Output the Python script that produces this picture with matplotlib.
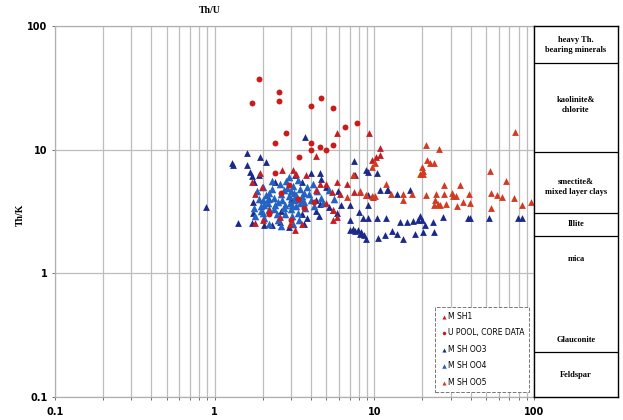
import matplotlib.pyplot as plt
import numpy as np
from matplotlib.ticker import FixedLocator, NullFormatter, FixedFormatter

# Th/U (x) and Th/K (y)
upool_x = [1.89, 2.53, 1.71, 2.53, 2.78, 2.37, 4.03, 4.61, 5.53, 6.52, 7.74, 4.03, 4.56, 5.53,
           4.03, 5.0, 3.37, 2.4, 2.9, 3.3, 2.2, 3.0, 3.6, 2.6, 4.2]
upool_y = [37.1, 29.4, 24.0, 24.6, 13.6, 11.3, 22.4, 26.3, 21.6, 15.3, 16.5, 11.3, 10.5, 10.9,
           9.95, 9.95, 8.7, 6.5, 5.2, 4.0, 3.0, 2.7, 3.4, 4.5, 3.8]

msh1_x = [5.8, 9.3, 10.8, 4.3, 2.65, 1.92, 3.1, 3.25, 1.7, 1.97, 1.8, 4.56, 5.0, 5.8, 6.7,
          4.3, 5.4, 6.1, 7.5, 8.1, 8.8, 9.8, 7.5, 9.6, 10.2, 10.9, 5.0, 5.5, 5.8, 2.57,
          2.96, 3.2, 3.5, 2.2, 2.0, 1.8, 3.75, 5.5, 5.5]
msh1_y = [13.6, 13.7, 10.3, 8.9, 6.85, 6.5, 6.85, 6.4, 5.5, 5.0, 4.4, 5.3, 5.3, 5.5, 5.3,
          4.7, 4.55, 4.4, 4.55, 4.55, 4.3, 4.15, 6.2, 8.3, 8.7, 9.1, 3.7, 3.26, 2.86, 2.86,
          2.5, 2.24, 2.5, 3.26, 2.7, 2.55, 6.25, 3.26, 2.7]

msh003_x = [0.88, 1.6, 1.92, 2.1, 1.28, 1.3, 1.6, 1.66, 1.7, 1.75, 1.4, 1.73, 1.73, 1.7, 2.27,
            2.57, 3.65, 7.5, 9.1, 10.4, 4.56, 3.5, 12.1, 5.9, 7.0, 6.2, 9.1, 8.0, 7.0, 8.5,
            9.1, 10.4, 11.9, 14.5, 15.9, 17.5, 18.8, 7.0, 7.6, 8.1, 8.8, 10.6, 11.6, 12.9,
            13.8, 15.2, 18.0, 5.8, 5.2, 4.3, 4.56, 19.3, 19.9, 20.6, 20.2, 23.5, 23.2, 27.0,
            38.6, 39.7, 52.3, 78.8, 84.3, 7.6, 8.9, 9.1, 10.8, 12.0, 13.8, 16.7, 2.2, 2.6,
            3.0, 3.5, 4.3, 3.8, 2.4, 1.9, 3.2, 4.0, 4.6, 5.0, 2.05, 2.9, 3.6, 4.5,
            7.3, 7.9, 8.3, 8.6]
msh003_y = [3.44, 9.46, 8.7, 8.0, 7.85, 7.5, 7.5, 6.6, 6.1, 5.5, 2.57, 3.8, 3.05, 2.57, 2.46,
            2.6, 12.6, 8.1, 6.6, 6.5, 6.5, 5.5, 4.7, 4.6, 3.6, 3.6, 3.57, 3.15, 2.7, 2.8,
            2.8, 2.8, 2.8, 2.6, 2.6, 2.65, 2.7, 2.24, 2.2, 2.1, 1.9, 1.95, 2.04, 2.2,
            2.1, 1.9, 2.1, 3.05, 3.45, 3.9, 3.65, 2.9, 2.7, 2.46, 2.18, 2.18, 2.6, 2.85,
            2.8, 2.8, 2.8, 2.8, 2.8, 6.25, 6.85, 4.3, 4.7, 4.72, 4.4, 4.7, 4.0, 3.2,
            4.0, 3.0, 3.2, 2.8, 5.5, 6.3, 6.3, 6.5, 5.8, 5.0, 2.45, 2.35, 2.5, 2.9,
            2.3, 2.25, 2.15, 2.05]

msh004_x = [1.85, 1.9, 1.95, 2.0, 2.05, 2.1, 2.15, 2.2, 2.0, 2.3, 2.35, 2.4, 2.45, 2.5, 2.55,
            2.6, 2.65, 2.7, 2.75, 2.8, 2.85, 2.9, 2.95, 3.0, 3.05, 3.1, 3.15, 3.2, 3.25, 3.3,
            3.35, 3.4, 3.5, 3.6, 3.7, 3.8, 3.9, 4.0, 4.2, 4.4, 4.6, 4.8, 2.2, 2.6, 3.1,
            1.8, 1.75, 2.3, 2.9, 3.3, 2.0, 2.5, 3.0, 3.4, 2.7, 2.2, 3.6, 4.1, 5.2, 5.6,
            1.95, 2.05, 2.15, 3.05, 3.15, 3.25, 2.35, 2.75, 3.45]
msh004_y = [4.6, 4.0, 3.5, 3.1, 2.8, 4.3, 3.7, 3.3, 5.0, 4.8, 4.1, 3.6, 3.0, 2.7, 5.3,
            4.4, 3.9, 3.4, 3.0, 5.6, 4.9, 4.2, 3.7, 3.3, 2.9, 5.1, 4.5, 4.0, 3.5, 3.1,
            2.7, 4.8, 4.2, 3.8, 3.4, 5.0, 4.4, 3.9, 3.5, 4.6, 4.1, 3.7, 2.5, 2.4, 2.5,
            2.9, 3.4, 5.6, 6.0, 5.7, 3.9, 3.8, 4.6, 3.7, 4.7, 4.5, 4.5, 5.3, 4.7, 4.0,
            3.2, 3.6, 4.0, 3.6, 3.9, 4.3, 3.3, 3.6, 4.0]

msh005_x = [21, 25.5, 76, 22.3, 23.5, 19.9, 20.2, 20.2, 27.4, 34.4, 21, 24.4, 27.4, 30.4, 31,
            32.6, 39.2, 53, 66.7, 53.5, 58.5, 63, 74.5, 24.1, 25.1, 23.7, 25.8, 28.2, 35.9,
            39.7, 33, 54, 84.5, 96, 9.6, 10.1, 7.3, 11.9, 15.2, 17.2, 15.2, 12.7, 8.9, 9.6,
            10.1, 6.7, 8.1, 19.3, 21.2]
msh005_y = [10.9, 10.1, 13.9, 7.85, 7.75, 7.2, 6.7, 6.4, 5.2, 5.2, 4.28, 4.35, 4.35, 4.5, 4.2,
            4.2, 4.35, 6.7, 5.6, 4.5, 4.3, 4.15, 4.1, 3.92, 3.65, 3.6, 3.57, 3.65, 3.75,
            3.7, 3.5, 3.4, 3.57, 3.75, 7.2, 7.75, 6.25, 5.3, 4.4, 4.4, 3.92, 4.35, 4.3, 4.2,
            4.2, 4.15, 4.6, 6.4, 8.3]

# mineral zones on the right (Th/K boundaries)
zone_edges = [100, 50, 9.6, 3.1, 2.0, 0.23, 0.1]
zone_labels = [("heavy Th.\nbearing minerals", 70),
               ("kaolinite&\nchlorite", 23),
               ("smectite&\nmixed layer clays", 5.0),
               ("Illite", 2.5),
               ("mica", 1.3),
               ("Glauconite", 0.29),
               ("Feldspar", 0.15)]

fig = plt.figure(figsize=(6.23, 4.2), dpi=100)
ax = fig.add_axes([0.0883, 0.0548, 0.769, 0.883])

ax.set_xscale('log')
ax.set_yscale('log')
ax.set_xlim(0.1, 100)
ax.set_ylim(0.1, 100)

ax.scatter(msh003_x, msh003_y, marker='^', s=24, color='#1b2a8a', linewidths=0, label='M SH OO3', zorder=3)
ax.scatter(msh004_x, msh004_y, marker='^', s=30, color='#2463c2', linewidths=0, label='M SH OO4', zorder=3)
ax.scatter(msh1_x, msh1_y, marker='^', s=24, color='#c41e24', linewidths=0, label='M SH1', zorder=4)
ax.scatter(msh005_x, msh005_y, marker='^', s=24, color='#d23a22', linewidths=0, label='M SH OO5', zorder=4)
ax.scatter(upool_x, upool_y, marker='o', s=18, color='#cc1a1a', linewidths=0, label='U POOL, CORE DATA', zorder=5)

major = [0.1, 1, 10, 100]
ax.xaxis.set_major_locator(FixedLocator(major))
ax.yaxis.set_major_locator(FixedLocator(major))
ax.xaxis.set_major_formatter(FixedFormatter(['0.1', '1', '10', '100']))
ax.yaxis.set_major_formatter(FixedFormatter(['0.1', '1', '10', '100']))
ax.yaxis.set_minor_locator(FixedLocator([]))
ax.xaxis.set_minor_formatter(NullFormatter())
ax.grid(True, which='both', axis='x', color='#bdbdbd', linewidth=0.9)
ax.grid(True, which='major', axis='y', color='#bdbdbd', linewidth=0.9)
ax.tick_params(which='both', length=2, width=0.6, color='#555555', labelsize=7)
ax.tick_params(axis='x', pad=5)
for lab in ax.get_xticklabels() + ax.get_yticklabels():
    lab.set_fontweight('bold')
for s in ax.spines.values():
    s.set_color('#b0b0b0')
    s.set_linewidth(0.9)

# legend order as in the reference
h, l = ax.get_legend_handles_labels()
order = [l.index(n) for n in ['M SH1', 'U POOL, CORE DATA', 'M SH OO3', 'M SH OO4', 'M SH OO5']]
leg = ax.legend([h[i] for i in order], [l[i] for i in order], loc='lower right',
                bbox_to_anchor=(0.998, 0.004), fontsize=5.5, fancybox=False, framealpha=1,
                edgecolor='#777777', handletextpad=0.1, markerscale=0.6, labelspacing=1.0,
                borderpad=0.6, handlelength=1.0)
leg.get_frame().set_linewidth(0.7)
leg.get_frame().set_linestyle('--')

# mineral table on the right
tab = fig.add_axes([0.857, 0.0548, 0.135, 0.883])
tab.set_yscale('log')
tab.set_ylim(0.1, 100)
tab.set_xlim(0, 1)
tab.set_xticks([])
tab.set_yticks([])
tab.minorticks_off()
for s in tab.spines.values():
    s.set_color('black')
    s.set_linewidth(1.0)
for e in zone_edges[1:-1]:
    tab.axhline(e, color='black', linewidth=0.9)
for txt, yv in zone_labels:
    tab.text(0.5, yv, txt, ha='center', va='center', fontsize=6, fontweight='bold',
             family='Liberation Serif', linespacing=1.3)

fig.text(0.337, 0.975, 'Th/U', ha='center', va='center', fontsize=7, fontweight='bold',
         family='Liberation Serif')
fig.text(0.032, 0.488, 'Th/K', ha='center', va='center', rotation=90, fontsize=7,
         fontweight='bold', family='Liberation Serif')

fig.savefig('out.png', dpi=100)
